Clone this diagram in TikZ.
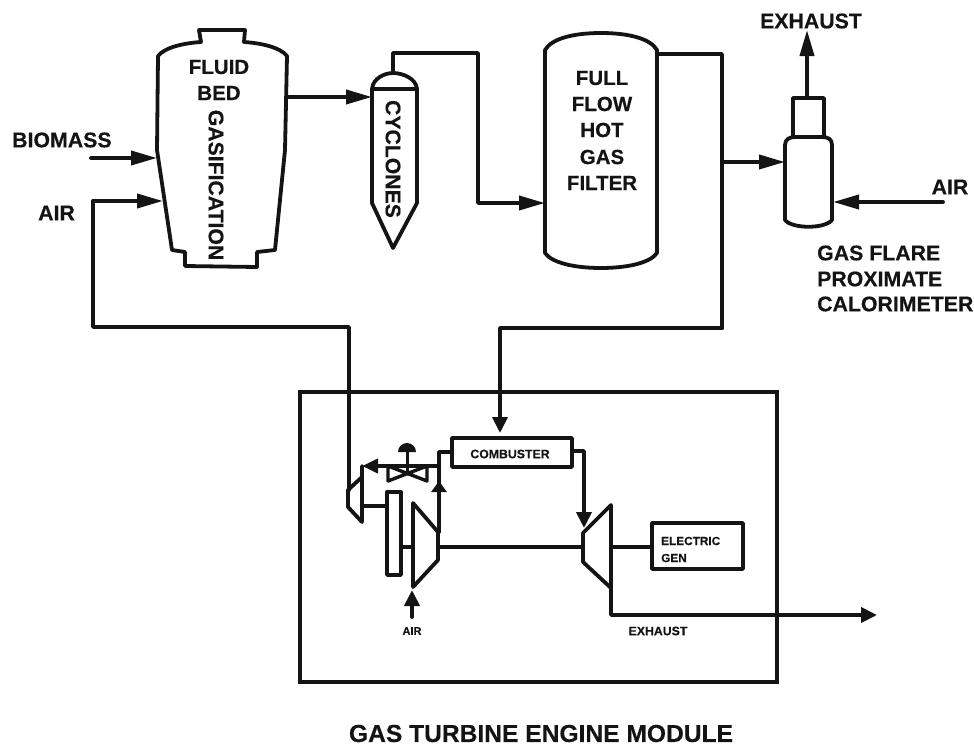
\documentclass[tikz,border=0pt]{standalone}
\usepackage{fontspec}
\setmainfont{Liberation Sans}[BoldFeatures={FakeBold=0.3}]
\usetikzlibrary{arrows.meta}
\tikzset{
  ln/.style={line width=3.8pt,line join=round,line cap=round,black!92},
  flow/.style={ln,-{Triangle[length=26pt,width=14pt]}},
  sflow/.style={ln,-{Triangle[length=16pt,width=15pt]}},
  lab/.style={font=\fontsize{20.5}{22}\bfseries\selectfont,inner sep=0pt,text=black!92},
  lab2/.style={lab,font=\fontsize{21.3}{22}\bfseries\selectfont},
  vlab/.style={lab,rotate=-90,font=\fontsize{21.2}{22}\bfseries\selectfont},
  small/.style={font=\fontsize{12.3}{13}\bfseries\selectfont,inner sep=0pt,text=black!92},
}
\begin{document}
\begin{tikzpicture}[x=1pt,y=-1pt]
\useasboundingbox (0,0) rectangle (974,747);
% gasifier
\draw[ln] (199,30) -- (245,30) -- (244,42) .. controls (260,43) and (280,47) .. (287,56) -- (285,150) -- (275,250) -- (257,252) -- (257,267) -- (185,266) -- (185,252) -- (172,250) -- (157,150) -- (158,56) .. controls (165,47) and (185,43) .. (201,42) -- cycle;
\node[lab] (fluid) at (219,67) {FLUID};
\node[lab] (bed) at (219,93) {BED};
\node[vlab] (gasif) at (216,185) {GASIFICATION};
% cyclone
\draw[ln] (372,89) .. controls (373,78) and (385,73) .. (393,73) .. controls (402,73) and (416,78) .. (417,89) -- (417,203) -- (393,248) -- (372,203) -- cycle;
\draw[ln] (372,89) -- (417,89);
\node[vlab] (cyc) at (393,159) {CYCLONES};
\coordinate (cycout) at (393,73);
\coordinate (cycin) at (372,97);
\coordinate (gasout) at (286,97);
\draw[flow] (gasout) -- (cycin);
% filter
\draw[ln] (545,50) .. controls (552,38) and (575,33) .. (601,33) .. controls (627,33) and (650,38) .. (657,50) -- (657,253) .. controls (650,263) and (627,268) .. (601,268) .. controls (575,268) and (552,263) .. (545,253) -- cycle;
\node[lab] (f1) at (602,78) {FULL};
\node[lab] (f2) at (602,104) {FLOW};
\node[lab] (f3) at (602,130) {HOT};
\node[lab] (f4) at (602,157) {GAS};
\node[lab] (f5) at (602,183) {FILTER};
\coordinate (filtin) at (545,203);
\coordinate (filtout) at (657,54);
\draw[flow] (cycout) -- (393,53) -- (478,53) -- (478,203) -- (filtin);
% flare
\draw[ln] (793,137) -- (793,98) -- (824,98) -- (824,137);
\draw[ln] (785,145) .. controls (785,139) and (790,137) .. (795,137) -- (822,137) .. controls (828,137) and (832,139) .. (832,145) -- (832,220) .. controls (825,229) and (792,229) .. (785,220) -- cycle;
\coordinate (flarein) at (785,162);
\coordinate (flareair) at (833,202);
\coordinate (flaretop) at (807,98);
\coordinate (exh) at (807,30);
\coordinate (airr) at (943,202);
\coordinate (branch) at (722,162);
\draw[flow] (branch) -- (flarein);
\draw[flow] (flaretop) -- (exh);
\draw[flow] (airr) -- (flareair);
\node[lab2] (exl) at (811,21) {EXHAUST};
\node[lab2] (airl) at (950,187) {AIR};
\node[lab2,anchor=west] (g1) at (817,253) {GAS FLARE};
\node[lab2,anchor=west] (g2) at (817,279) {PROXIMATE};
\node[lab2,anchor=west] (g3) at (817,304) {CALORIMETER};
% left inputs
\node[lab2,anchor=west] (bio) at (12,140) {BIOMASS};
\node[lab2,anchor=west] (airlft) at (38,213) {AIR};
\coordinate (bioa) at (91,158);
\coordinate (biob) at (157,158);
\coordinate (aira) at (93,201);
\coordinate (airb) at (163,201);
\draw[flow] (bioa) -- (biob);
\draw[flow] (aira) -- (airb);
% module
\draw[ln,line width=4pt,line cap=butt,line join=miter] (300,392) rectangle (777,682);
\node[lab,font=\fontsize{24.6}{26}\bfseries\selectfont] (mod) at (541,733.5) {GAS TURBINE ENGINE MODULE};
% small turbine and regenerator
\draw[ln] (93,201) -- (93,327) -- (349,327) -- (349,490);
\draw[ln] (362,466) -- (362,522) -- (348,507) -- (348,490) -- (362,477);
\draw[ln,line width=3.4pt] (387,492) rectangle (401,575);
\draw[ln] (362,506) -- (387,506);
\draw[ln] (401,547) -- (413,547);
% compressor
\draw[ln] (413,503) -- (438,532) -- (438,560) -- (413,587) -- cycle;
\draw[ln] (438,547) -- (583,547);
% turbine
\draw[ln] (583,533) -- (611,505) -- (611,588) -- (583,562) -- cycle;
% combustor
\draw[ln] (452,438) rectangle (572,467);
\node[small] (comb) at (510,454) {COMBUSTER};
% valve
\draw[ln,line width=3.4pt] (388,466) -- (427,481) -- (427,466) -- (388,481) -- cycle;
\draw[ln,line width=3pt] (407,474) -- (407,452);
\fill[black!92] (398,452) arc[start angle=180,end angle=360,radius=9] -- cycle;
\draw[ln,-{Triangle[length=16pt,width=14pt]}] (439,466) -- (362,466);
\draw[ln] (439,532) -- (439,452) -- (452,452);
\draw[ln,-{Triangle[length=11pt,width=15pt]}] (439,510) -- (439,481);
\draw[sflow] (572,451) -- (584,451) -- (584,528);
% feed
\draw[ln] (657,54) -- (722,54) -- (722,328);
\draw[sflow] (722,328) -- (500,328) -- (500,433);
% generator
\draw[ln] (611,547) -- (652,547);
\draw[ln] (652,523) rectangle (743,569);
\node[small,anchor=west,font=\fontsize{11.8}{12}\bfseries\selectfont] (e1) at (661,541) {ELECTRIC};
\node[small,anchor=west,font=\fontsize{11.8}{12}\bfseries\selectfont] (e2) at (661,558) {GEN};
\draw[sflow] (611,588) -- (611,615) -- (877,615);
\node[small] (ex2) at (658,631) {EXHAUST};
\draw[sflow] (412,617) -- (412,590);
\node[small,font=\fontsize{11}{12}\bfseries\selectfont] (air2) at (412,631) {AIR};
\end{tikzpicture}
\end{document}
